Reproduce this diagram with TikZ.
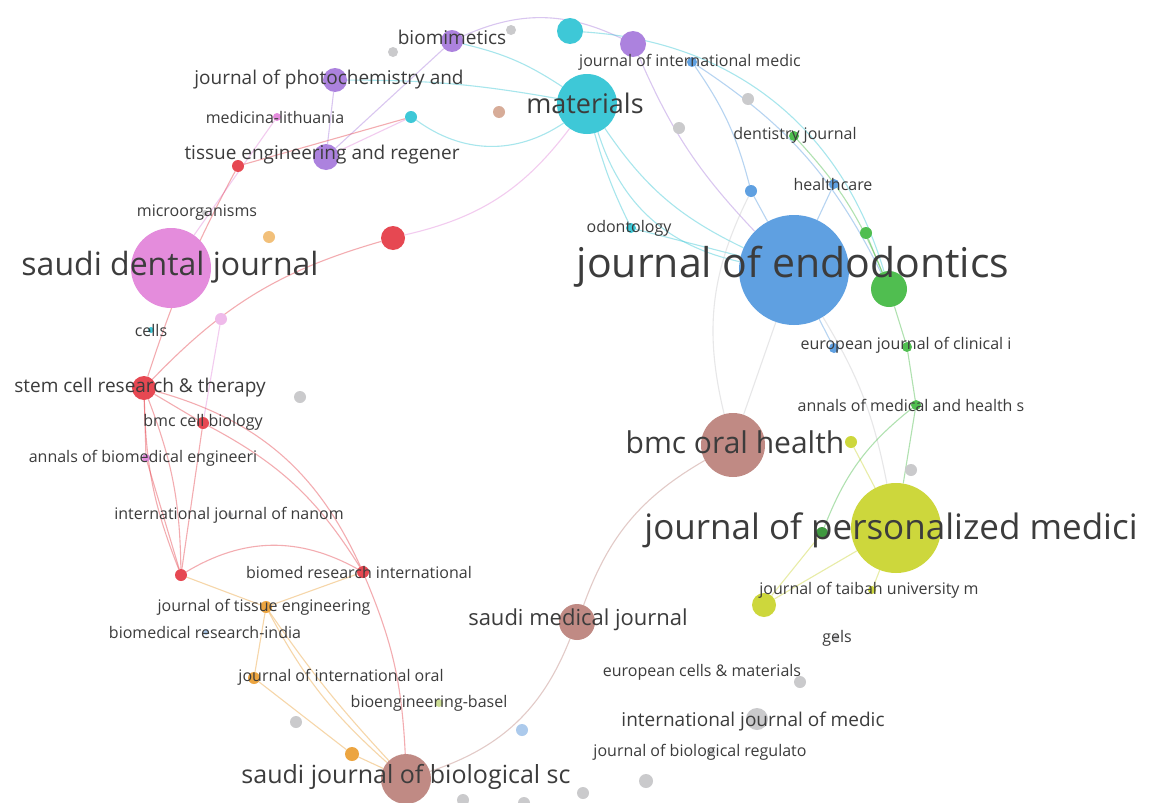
\documentclass[tikz,border=0pt]{standalone}
\usepackage{fontspec}
\setmainfont{Open Sans}
\usepackage{tikz}
\pgfdeclarelayer{bg}
\pgfsetlayers{bg,main}
\definecolor{cblue}{RGB}{95,160,225}
\definecolor{cyel}{RGB}{205,215,60}
\definecolor{cpink}{RGB}{228,140,220}
\definecolor{ccyan}{RGB}{62,200,215}
\definecolor{cbrown}{RGB}{192,138,132}
\definecolor{cred}{RGB}{230,72,82}
\definecolor{cpurple}{RGB}{172,130,222}
\definecolor{cgreen}{RGB}{80,190,80}
\definecolor{corange}{RGB}{236,165,65}
\definecolor{cgray}{RGB}{202,202,204}
\definecolor{ctan}{RGB}{215,172,152}
\definecolor{clblue}{RGB}{172,202,236}
\definecolor{clgreen}{RGB}{205,222,150}
\definecolor{ctext}{RGB}{60,60,60}

\begin{document}
\begin{tikzpicture}[x=1pt,y=-1pt,
  jn/.style={circle, fill=#1, draw=none, inner sep=0pt},
  lb/.style={text=ctext, inner sep=0pt, font=\fontsize{#1}{#1}\selectfont},
  ln/.style={draw=#1, line width=1.1pt, opacity=0.45}]
\useasboundingbox (0,0) rectangle (1149,803);

\node[jn=cblue, minimum size=110] (endo) at (794,270) {};
\node[jn=cyel, minimum size=90] (persmed) at (896,528) {};
\node[jn=cpink, minimum size=80] (sdj) at (171,268) {};
\node[jn=ccyan, minimum size=60] (mat) at (587,104) {};
\node[jn=cbrown, minimum size=64] (bmcoh) at (733,445) {};
\node[jn=cbrown, minimum size=50] (sjbs) at (406,779) {};
\node[jn=cbrown, minimum size=36] (smj) at (577,622) {};
\node[jn=cgreen, minimum size=36] (gbig) at (889,289) {};
\node[jn=cred, minimum size=24] (scrt) at (144,388) {};
\node[jn=cred, minimum size=24] (redmid) at (393,238) {};
\node[jn=cpurple, minimum size=26] (tissue) at (326,157) {};
\node[jn=cpurple, minimum size=24] (photo) at (335,80) {};
\node[jn=cpurple, minimum size=22] (biomim) at (452,41) {};
\node[jn=cpurple, minimum size=26] (purtop) at (633,44) {};
\node[jn=ccyan, minimum size=26] (cyantop) at (570,31) {};
\node[jn=cyel, minimum size=24] (yelb) at (764,605) {};
\node[jn=cgray, minimum size=22] (intmed) at (757,719) {};
\node[jn=cblue, minimum size=10] (jim) at (692,62) {};
\node[jn=cpink, minimum size=8] (medlit) at (277,117) {};
\node[jn=ccyan, minimum size=12] (cyansm) at (411,117) {};
\node[jn=ctan, minimum size=12] (tan) at (499,112) {};
\node[jn=cgray, minimum size=10] (gr1) at (511,30) {};
\node[jn=cgray, minimum size=10] (gr2) at (393,52) {};
\node[jn=cgray, minimum size=12] (gr3) at (748,99) {};
\node[jn=cgray, minimum size=12] (gr4) at (679,128) {};
\node[jn=cgreen, minimum size=10] (dent) at (794,136) {};
\node[jn=cblue, minimum size=10] (health) at (834,184) {};
\node[jn=cblue, minimum size=12] (bluesm) at (751,191) {};
\node[jn=ccyan, minimum size=10] (odont) at (631,228) {};
\node[jn=cgreen, minimum size=12] (gsm) at (866,233) {};
\node[jn=cblue, minimum size=10] (eujb) at (834,348) {};
\node[jn=cgreen, minimum size=10] (eujg) at (907,347) {};
\node[jn=cred, minimum size=12] (redsm) at (238,166) {};
\node[jn=cgray, minimum size=6] (micro) at (205,213) {};
\node[jn=corange!70, minimum size=12] (orsm) at (269,237) {};
\node[jn=cpink!60, minimum size=12] (pinksm) at (221,319) {};
\node[jn=ccyan, minimum size=6] (cells) at (151,330) {};
\node[jn=cgray, minimum size=12] (gr5) at (300,397) {};
\node[jn=cred, minimum size=12] (bmccb) at (203,423) {};
\node[jn=cpink, minimum size=8] (annbio) at (146,458) {};
\node[jn=cgray, minimum size=6] (ijn) at (230,515) {};
\node[jn=cred, minimum size=12] (red2) at (181,575) {};
\node[jn=cred, minimum size=12] (bri) at (363,572) {};
\node[jn=corange, minimum size=12] (jte) at (266,607) {};
\node[jn=clblue, minimum size=6] (brind) at (206,632) {};
\node[jn=corange, minimum size=12] (jio) at (254,678) {};
\node[jn=clgreen, minimum size=8] (bioeng) at (439,703) {};
\node[jn=cgray, minimum size=12] (gr6) at (296,722) {};
\node[jn=clblue, minimum size=12] (lb1) at (522,730) {};
\node[jn=corange, minimum size=14] (or2) at (352,754) {};
\node[jn=cgray, minimum size=12] (gr7) at (463,800) {};
\node[jn=cgray, minimum size=12] (gr8) at (524,803) {};
\node[jn=cgreen, minimum size=10] (annmed) at (916,405) {};
\node[jn=cyel, minimum size=12] (yelsm) at (851,442) {};
\node[jn=cgray, minimum size=12] (gr9) at (911,470) {};
\node[jn=cgreen!80!black, minimum size=12] (gdark) at (822,533) {};
\node[jn=cyel, minimum size=8] (taibah) at (872,590) {};
\node[jn=cgray, minimum size=6] (gels) at (836,638) {};
\node[jn=cgray, minimum size=12] (ecm) at (800,682) {};
\node[jn=cgray, minimum size=8] (jbr) at (711,752) {};
\node[jn=cgray, minimum size=14] (gr10) at (646,781) {};
\node[jn=cgray, minimum size=12] (gr11) at (583,793) {};

\begin{pgfonlayer}{bg}
\fill[white] (0,0) rectangle (1149,803);
\draw[ln=cpurple] (biomim) to[bend left=25] (purtop);
\draw[ln=ccyan] (biomim) to[bend left=10] (mat);
\draw[ln=ccyan] (photo) to[bend left=5] (mat);
\draw[ln=ccyan] (cyansm) to[bend right=35] (mat);
\draw[ln=cpurple] (tissue) -- (biomim);
\draw[ln=cpink] (tissue) -- (cyansm);
\draw[ln=cpurple] (tissue) -- (photo);
\draw[ln=cpink] (sdj) -- (medlit);
\draw[ln=cred] (redsm) -- (cyansm);
\draw[ln=cpink] (redmid) to[bend right=20] (mat);
\draw[ln=cred] (redmid) to[bend right=15] (scrt);
\draw[ln=cred] (redsm) to[bend right=5] (scrt);
\draw[ln=cpink] (pinksm) -- (bmccb);
\draw[ln=ccyan] (mat) to[bend right=15] (endo);
\draw[ln=ccyan] (mat) to[bend right=30] (endo);
\draw[ln=ccyan] (mat) to[bend right=5] (odont);
\draw[ln=ccyan] (odont) -- (endo);
\draw[ln=cpurple] (purtop) to[bend right=10] (endo);
\draw[ln=cblue] (jim) to[bend left=10] (bluesm);
\draw[ln=cblue] (bluesm) -- (endo);
\draw[ln=cblue] (jim) to[bend left=15] (gbig);
\draw[ln=ccyan] (cyantop) to[bend left=35] (gbig);
\draw[ln=cgray] (bluesm) to[bend right=20] (bmcoh);
\draw[ln=cgray] (endo) -- (bmcoh);
\draw[ln=cblue] (endo) -- (eujb);
\draw[ln=cgray] (endo) to[bend left=10] (persmed);
\draw[ln=cblue] (endo) -- (health);
\draw[ln=cgreen] (gsm) -- (gbig);
\draw[ln=cgreen] (gbig) -- (eujg);
\draw[ln=cgreen] (eujg) -- (annmed);
\draw[ln=cgreen] (annmed) -- (persmed);
\draw[ln=cgreen] (dent) to[bend left=10] (gbig);
\draw[ln=cyel] (yelsm) -- (persmed);
\draw[ln=cgreen] (annmed) to[bend right=15] (gdark);
\draw[ln=cyel] (gdark) -- (yelb);
\draw[ln=cyel] (persmed) -- (yelb);
\draw[ln=cyel] (persmed) -- (taibah);
\draw[ln=cbrown] (bmcoh) to[bend right=20] (smj);
\draw[ln=cbrown] (smj) to[bend left=25] (sjbs);
\draw[ln=cred] (scrt) -- (bmccb);
\draw[ln=cred] (scrt) -- (annbio);
\draw[ln=cred] (scrt) to[bend right=10] (red2);
\draw[ln=cred] (scrt) to[bend left=10] (red2);
\draw[ln=cred] (scrt) to[bend left=25] (bri);
\draw[ln=cred] (bmccb) to[bend left=15] (bri);
\draw[ln=cred] (bmccb) -- (red2);
\draw[ln=cred] (annbio) -- (red2);
\draw[ln=cred] (red2) to[bend left=30] (bri);
\draw[ln=cred] (bri) to[bend left=10] (sjbs);
\draw[ln=corange] (red2) -- (jte);
\draw[ln=corange] (jte) -- (bri);
\draw[ln=corange] (jte) to[bend right=10] (sjbs);
\draw[ln=corange] (jte) to[bend right=4] (sjbs);
\draw[ln=corange] (jte) -- (jio);
\draw[ln=corange] (jio) -- (or2);
\draw[ln=corange] (or2) -- (sjbs);
\end{pgfonlayer}

\node[lb=41] (endo-t) at (793,267) {journal of endodontics};
\node[lb=35] (persmed-t) at (891,530) {journal of personalized medici};
\node[lb=32] (sdj-t) at (170,267) {saudi dental journal};
\node[lb=30] (bmcoh-t) at (735,442) {bmc oral health};
\node[lb=27] (mat-t) at (585,103) {materials};
\node[lb=25] (sjbs-t) at (406,777) {saudi journal of biological sc};
\node[lb=22] (smj-t) at (578,620) {saudi medical journal};
\node[lb=19] (scrt-t) at (140,388) {stem cell research \& therapy};
\node[lb=19] (tissue-t) at (322,155) {tissue engineering and regener};
\node[lb=19] (photo-t) at (329,80) {journal of photochemistry and};
\node[lb=19] (biomim-t) at (452,37) {biomimetics};
\node[lb=19] (intmed-t) at (753,722) {international journal of medic};
\node[lb=16] (jim-t) at (690,62) {journal of international medic};
\node[lb=16] (dent-t) at (795,135) {dentistry journal};
\node[lb=16] (health-t) at (833,184) {healthcare};
\node[lb=16] (odont-t) at (629,228) {odontology};
\node[lb=16] (euj-t) at (906,345) {european journal of clinical i};
\node[lb=16] (annmed-t) at (911,405) {annals of medical and health s};
\node[lb=16] (medlit-t) at (275,117) {medicina-lithuania};
\node[lb=16] (micro-t) at (197,213) {microorganisms};
\node[lb=16] (cells-t) at (151,330) {cells};
\node[lb=16] (bmccb-t) at (203,422) {bmc cell biology};
\node[lb=16] (annbio-t) at (143,458) {annals of biomedical engineeri};
\node[lb=16] (ijn-t) at (229,515) {international journal of nanom};
\node[lb=16] (bri-t) at (359,572) {biomed research international};
\node[lb=16] (jte-t) at (264,607) {journal of tissue engineering};
\node[lb=16] (brind-t) at (205,632) {biomedical research-india};
\node[lb=16] (jio-t) at (341,677) {journal of international oral};
\node[lb=16] (bioeng-t) at (429,703) {bioengineering-basel};
\node[lb=16] (taibah-t) at (869,590) {journal of taibah university m};
\node[lb=16] (gels-t) at (837,638) {gels};
\node[lb=16] (ecm-t) at (702,672) {european cells \& materials};
\node[lb=16] (jbr-t) at (700,752) {journal of biological regulato};
\end{tikzpicture}
\end{document}
